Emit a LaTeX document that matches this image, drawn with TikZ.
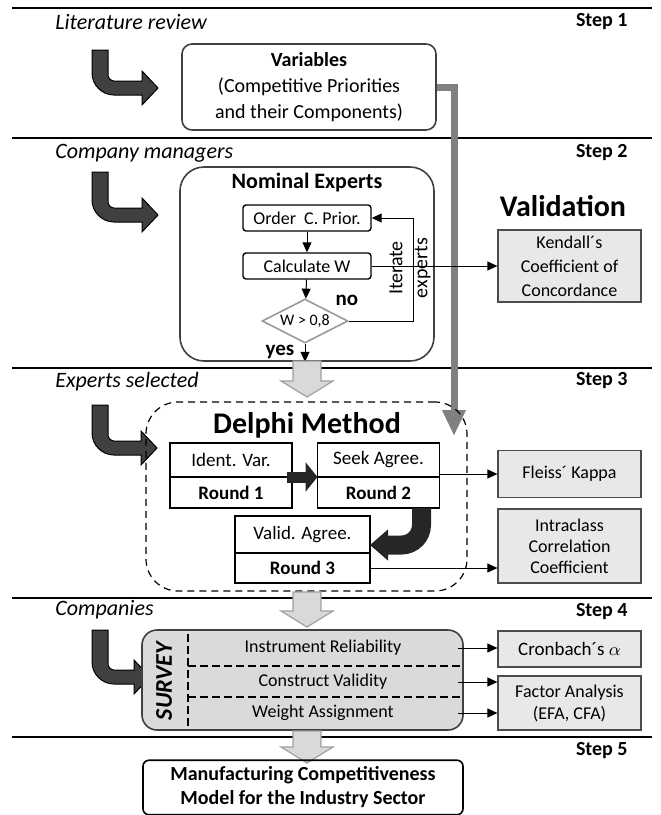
\documentclass[tikz,border=0pt]{standalone}
\usepackage{fontspec}
\setmainfont{Carlito}
\usepackage{tikz}
\usetikzlibrary{arrows.meta,shapes.geometric,positioning,calc}
\definecolor{bentgray}{RGB}{64,64,64}
\definecolor{linkgray}{RGB}{128,128,128}
\definecolor{boxgray}{RGB}{232,232,232}
\definecolor{surveygray}{RGB}{218,218,218}
\definecolor{hollowfill}{RGB}{217,217,217}
\definecolor{hollowedge}{RGB}{160,160,160}
\tikzstyle{flow} = [-{Triangle[length=5pt,width=4.5pt]}, line width=0.5pt]
\tikzstyle{sectionline} = [line width=1pt]
\tikzstyle{splitline} = [line width=1pt, dash pattern=on 4pt off 2pt]
\tikzstyle{phase} = [font=\fontsize{11}{13}\selectfont\itshape, anchor=west, inner sep=0pt]
\tikzstyle{steplabel} = [font=\fontsize{10}{12}\selectfont\bfseries, anchor=east, inner sep=0pt]
\tikzstyle{softbox} = [rectangle, rounded corners=5pt, draw=black!75, line width=0.8pt, align=center]
\tikzstyle{smallbox} = [rectangle, rounded corners=1.5pt, draw=black, line width=0.7pt, font=\fontsize{9}{11}\selectfont, minimum width=64pt, minimum height=13pt, inner sep=0pt]
\tikzstyle{roundbox} = [rectangle, draw=black, line width=0.9pt, font=\fontsize{9.5}{11}\selectfont, inner sep=0pt, outer sep=0pt]
\tikzstyle{metric} = [rectangle, draw=black!70, fill=boxgray, line width=0.6pt, font=\fontsize{9}{12}\selectfont, align=center, minimum width=71.5pt, inner sep=0pt]
\tikzstyle{row} = [font=\fontsize{9}{11}\selectfont, minimum width=135pt, inner sep=0pt]
\tikzstyle{hollow} = [fill=hollowfill, draw=hollowedge, line width=0.6pt]
\tikzstyle{bent} = [fill=bentgray, draw=black, line width=0.5pt]
\tikzstyle{fat} = [line width=5.5pt, black!85, -{Triangle[length=6pt,width=14.5pt]}]
\tikzstyle{link} = [draw=linkgray, line width=3.5pt, -{Triangle[length=13pt,width=11pt]}]
\newcommand{\bendarrow}[3]{%
  \filldraw[bent] (92,#1) -- (92,#2+7-22) .. controls (92,#2+7-10) and (92+10,#2+7) .. (92+22,#2+7)
    -- (#3-16,#2+7) -- (#3-16,#2+17) -- (#3,#2) -- (#3-16,#2-17) -- (#3-16,#2-7)
    -- (108+6,#2-7) .. controls (108+3,#2-7) and (108,#2-7-3) .. (108,#2-7-6) -- (108,#1) -- cycle;}
\newcommand{\hollowdown}[3]{%
  \filldraw[hollow] (#1-14,#2) -- (#1-14,#3-16) -- (#1-26,#3-16) -- (#1,#3)
    -- (#1+26,#3-16) -- (#1+14,#3-16) -- (#1+14,#2) -- cycle;}

\begin{document}
\begin{tikzpicture}[x=0.5pt, y=-0.5pt, font=\fontsize{9}{11}\selectfont]
\useasboundingbox (0,0) rectangle (660,815);
% section rules
\foreach \yy in {8,138,368,598,737}
  \draw[sectionline] (12,\yy) -- (652,\yy);
% left labels and steps
\node[phase] (lit) at (55,22) {Literature review};
\node[phase] (mgr) at (55,153) {Company managers};
\node[phase] (sel) at (55,382) {Experts selected};
\node[phase] (cos) at (55,610) {Companies};
\node[steplabel] (s1) at (628,22) {Step 1};
\node[steplabel] (s2) at (628,153) {Step 2};
\node[steplabel] (s3) at (628,381) {Step 3};
\node[steplabel] (s4) at (628,612) {Step 4};
\node[steplabel] (s5) at (628,751) {Step 5};
\bendarrow{50}{88}{158}
\bendarrow{172}{215}{158}
\bendarrow{405}{448}{157}
\bendarrow{630}{677}{150}

% step 1
\node[softbox, minimum width=127pt, minimum height=43pt, font=\fontsize{10}{13}\selectfont] (var) at (309,87)
  {\textbf{Variables}\\(Competitive Priorities\\and their Components)};
\coordinate (grayend) at (454,436);
\draw[link] (var.east) -| (grayend);

% step 2
\node[softbox, rounded corners=12pt, minimum width=127pt, minimum height=97pt] (nom) at (307,264) {};
\node[font=\fontsize{11}{13}\selectfont\bfseries] (nomtitle) at (307,183) {Nominal Experts};
\node[smallbox] (order) at (307,218) {Order\ \ C. Prior.};
\node[smallbox] (calc) at (307,266) {Calculate W};
\node[diamond, draw=gray!80, line width=0.8pt, aspect=2, inner sep=0pt, minimum width=43pt, minimum height=22pt,
  font=\fontsize{8}{10}\selectfont] (test) at (305,321) {W > 0,8};
\draw[flow] (order) -- (calc);
\draw[flow] (calc) -- (test);
\coordinate (loopx) at (413,0);
\draw[flow] (test.east) -- (test.east -| loopx) |- (order.east);
\node[rotate=90, font=\fontsize{10}{12.5}\selectfont, align=center] (iter) at (410,268) {Iterate\\experts};
\node[font=\fontsize{10.5}{12}\selectfont\bfseries] (no) at (347,300) {no};
\node[font=\fontsize{10.5}{12}\selectfont\bfseries] (yes) at (280,352) {yes};
\draw[flow] (test.south) -- (test.south |- nom.south);
\node[font=\fontsize{15}{18}\selectfont\bfseries] (valtitle) at (563,206) {Validation};
\node[metric, minimum height=36pt] (kendall) at (569.5,266) {Kendall´s\\Coefficient of\\Concordance};
\draw[flow] (calc.east) -- (kendall.west);
\hollowdown{307}{361}{397}

% step 3
\node[draw, dash pattern=on 3.5pt off 2.5pt, line width=0.6pt, rounded corners=16pt,
  minimum width=160.5pt, minimum height=94.5pt] (delphi) at (306.5,496.5) {};
\node[font=\fontsize{15}{18}\selectfont\bfseries] (deltitle) at (307,425) {Delphi Method};
\node[roundbox, minimum width=61pt, minimum height=17pt] (ident) at (231,460) {Ident. Var.};
\node[roundbox, minimum width=61pt, minimum height=15.5pt, below=0pt of ident, font=\fontsize{9.5}{11}\selectfont\bfseries] (rnd1) {Round 1};
\node[roundbox, minimum width=61pt, minimum height=17pt] (seek) at (378.5,460) {Seek Agree.};
\node[roundbox, minimum width=61pt, minimum height=15.5pt, below=0pt of seek, font=\fontsize{9.5}{11}\selectfont\bfseries] (rnd2) {Round 2};
\node[roundbox, minimum width=67.5pt, minimum height=18.5pt] (valid) at (302.5,534.5) {Valid. Agree.};
\node[roundbox, minimum width=67.5pt, minimum height=15pt, below=0pt of valid, font=\fontsize{9.5}{11}\selectfont\bfseries] (rnd3) {Round 3};
\draw[fat] ($(ident.south east)+(-5,0)$) -- (seek.south west);
\draw[fat, line width=9.5pt, rounded corners=10pt, -{Triangle[length=9pt,width=15pt]}]
  ($(rnd2.south east)+(-18,0)$) |- ($(valid.south east)+(0,-8)$);
\node[metric, minimum height=23.5pt] (fleiss) at (569.5,474) {Fleiss´ Kappa};
\node[metric, minimum height=37pt, font=\fontsize{9}{10.5}\selectfont] (icc) at (569.5,546) {Intraclass\\Correlation\\Coefficient};
\draw[flow] (fleiss.west -| seek.east) -- (fleiss.west);
\draw[flow] (rnd3.east) -- (rnd3.east -| icc.west);
\hollowdown{307}{592}{627}

% step 4
\node[draw=black!75, fill=surveygray, line width=0.8pt, rounded corners=7.5pt,
  minimum width=160.5pt, minimum height=50pt] (survey) at (302.5,680) {};
\node[rotate=90, font=\fontsize{12}{14}\selectfont\bfseries\itshape] (surveylbl) at (164,681) {SURVEY};
\draw[splitline] (188,634) -- (188,728);
\draw[splitline] (188,666) -- (463,666);
\draw[splitline] (188,697) -- (463,697);
\node[row] (rel) at (323,648) {Instrument Reliability};
\node[row] (con) at (323,682) {Construct Validity};
\node[row] (wei) at (323,713) {Weight Assignment};
\node[metric, minimum height=18pt, font=\fontsize{9.5}{11}\selectfont] (cron) at (569.5,649) {Cronbach´s $\alpha$};
\node[metric, minimum height=27pt, font=\fontsize{9}{11}\selectfont] (factor) at (569.5,703) {Factor Analysis\\(EFA, CFA)};
\draw[flow] (rel.east) -- (rel.east -| cron.west);
\draw[flow] (con.east) -- (con.east -| factor.west);
\draw[flow] (wei.east) -- (wei.east -| factor.west);
\hollowdown{307}{731}{763}

% step 5
\node[softbox, rounded corners=3pt, draw=black, minimum width=160pt, minimum height=24.5pt,
  font=\fontsize{10}{12}\selectfont\bfseries] (model) at (303,787.5) {Manufacturing Competitiveness\\Model for the Industry Sector};
\end{tikzpicture}
\end{document}
